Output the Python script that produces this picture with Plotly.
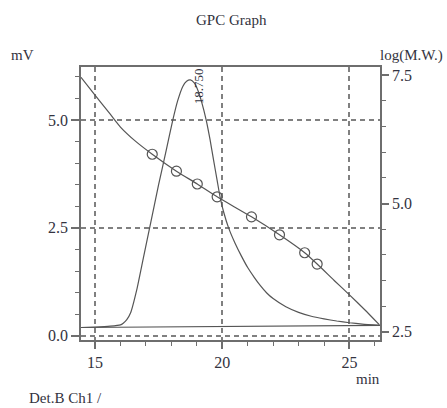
import plotly.graph_objects as go

# Chromatogram (Det.B Ch1), left axis mV
chrom_time = [14.45, 15.0, 15.6, 16.0, 16.11, 16.25, 16.4, 16.64, 16.9, 17.2, 17.5, 17.8,
              18.05, 18.25, 18.45, 18.6, 18.75, 18.9, 19.05, 19.2, 19.37, 19.52, 19.66, 19.8,
              19.92, 20.05, 20.25, 20.5, 20.75, 21.0, 21.25, 21.5, 21.75, 22.0, 22.5, 23.0,
              23.5, 24.0, 24.5, 25.0, 25.5, 26.2]
chrom_mv = [0.19, 0.2, 0.22, 0.25, 0.29, 0.37, 0.53, 1.06, 1.8, 2.65, 3.5, 4.3,
            4.98, 5.45, 5.78, 5.9, 5.93, 5.86, 5.68, 5.4, 5.0, 4.55, 4.07, 3.6,
            3.2, 2.88, 2.5, 2.15, 1.85, 1.58, 1.36, 1.16, 0.99, 0.86, 0.67, 0.54,
            0.45, 0.39, 0.34, 0.3, 0.27, 0.24]

# Baseline
base_time = [14.45, 26.2]
base_mv = [0.19, 0.24]

# Calibration curve, right axis log(M.W.)
cal_time = [14.45, 15.0, 15.6, 16.0, 16.6, 17.25, 18.2, 19.02, 19.8, 21.15, 22.25, 23.24, 23.73, 24.4, 25.0, 25.6, 26.17]
cal_logmw = [7.46, 7.11, 6.74, 6.49, 6.21, 5.96, 5.63, 5.38, 5.13, 4.74, 4.39, 4.04, 3.82, 3.5, 3.22, 2.93, 2.64]

# Calibration standards (markers)
std_time = [17.25, 18.2, 19.02, 19.8, 21.15, 22.25, 23.24, 23.73]
std_logmw = [5.96, 5.63, 5.38, 5.13, 4.74, 4.39, 4.04, 3.82]

peak_time = 18.75
peak_mv = 5.93
peak_label = "18.750"

FONT = "'Liberation Serif', 'Times New Roman', serif"
LINE = "#555555"
AX = "#6e6e6e"
TXT = "#333340"

fig = go.Figure()
fig.add_trace(go.Scatter(x=chrom_time, y=chrom_mv, mode="lines",
                         line=dict(color=LINE, width=1.2, shape="spline", smoothing=0.5),
                         showlegend=False, hoverinfo="skip"))
fig.add_trace(go.Scatter(x=base_time, y=base_mv, mode="lines",
                         line=dict(color=LINE, width=1.2), showlegend=False, hoverinfo="skip"))
fig.add_trace(go.Scatter(x=cal_time, y=cal_logmw, mode="lines", yaxis="y2",
                         line=dict(color=LINE, width=1.2, shape="spline", smoothing=0.5),
                         showlegend=False, hoverinfo="skip"))
fig.add_trace(go.Scatter(x=std_time, y=std_logmw, mode="markers", yaxis="y2",
                         marker=dict(symbol="circle-open", size=10, color=LINE, line=dict(width=1.2)),
                         showlegend=False, hoverinfo="skip"))

fig.update_layout(
    width=447, height=408,
    margin=dict(l=81, r=67, t=67, b=68),
    paper_bgcolor="white", plot_bgcolor="white",
    font=dict(family=FONT, color=TXT, size=15),
    xaxis=dict(range=[14.45, 26.2], tickmode="array", tickvals=[15, 20, 25],
               ticks="outside", ticklen=7, tickwidth=1.5, tickcolor=AX,
               minor=dict(dtick=1, tick0=15, ticks="outside", ticklen=4, tickcolor=AX, tickwidth=1.2, showgrid=False),
               showline=True, linecolor=AX, linewidth=1.8, mirror=True,
               showgrid=True, gridcolor="#808080", gridwidth=1.5, griddash="5px,4px",
               zeroline=False, tickfont=dict(size=16, family=FONT, color=TXT)),
    yaxis=dict(range=[-0.1, 6.23], tickmode="array", tickvals=[0, 2.5, 5.0], tickformat=".1f",
               ticks="outside", ticklen=8, tickwidth=1.5, tickcolor=AX,
               minor=dict(dtick=0.5, tick0=0, ticks="outside", ticklen=4, tickcolor=AX, tickwidth=1.2, showgrid=False),
               showline=True, linecolor=AX, linewidth=1.8,
               showgrid=True, gridcolor="#808080", gridwidth=1.5, griddash="5px,4px",
               zeroline=False, tickfont=dict(size=16, family=FONT, color=TXT)),
    yaxis2=dict(range=[2.34, 7.66], overlaying="y", side="right", tickmode="array",
                tickvals=[2.5, 5.0, 7.5], tickformat=".1f",
                ticks="outside", ticklen=7, tickwidth=1.5, tickcolor=AX,
                minor=dict(dtick=0.5, tick0=2.5, ticks="outside", ticklen=4, tickcolor=AX, tickwidth=1.2, showgrid=False),
                showline=True, linecolor=AX, linewidth=1.8,
                showgrid=False, zeroline=False, tickfont=dict(size=16, family=FONT, color=TXT)),
)

def note(text, x, y, xanchor="center"):
    return dict(text=text, x=x, y=y, xref="paper", yref="paper", showarrow=False,
                xanchor=xanchor, yanchor="middle", font=dict(size=15, family=FONT, color=TXT))

annots = [
    note("GPC Graph", 0.505, 1.172),
    note("mV", -0.194, 1.044),
    note("log(M.W.)", 1.104, 1.042),
    note("min", 0.96, -0.143),
    note("Det.B Ch1 /", -0.181, -0.212, xanchor="left"),
    dict(text=peak_label, x=peak_time, y=peak_mv, xref="x", yref="y", showarrow=False,
         textangle=-90, xshift=9, yshift=-6, yanchor="middle",
         font=dict(size=13, family=FONT, color=TXT)),
]
fig.update_layout(annotations=annots)

fig.write_html("out.html")
